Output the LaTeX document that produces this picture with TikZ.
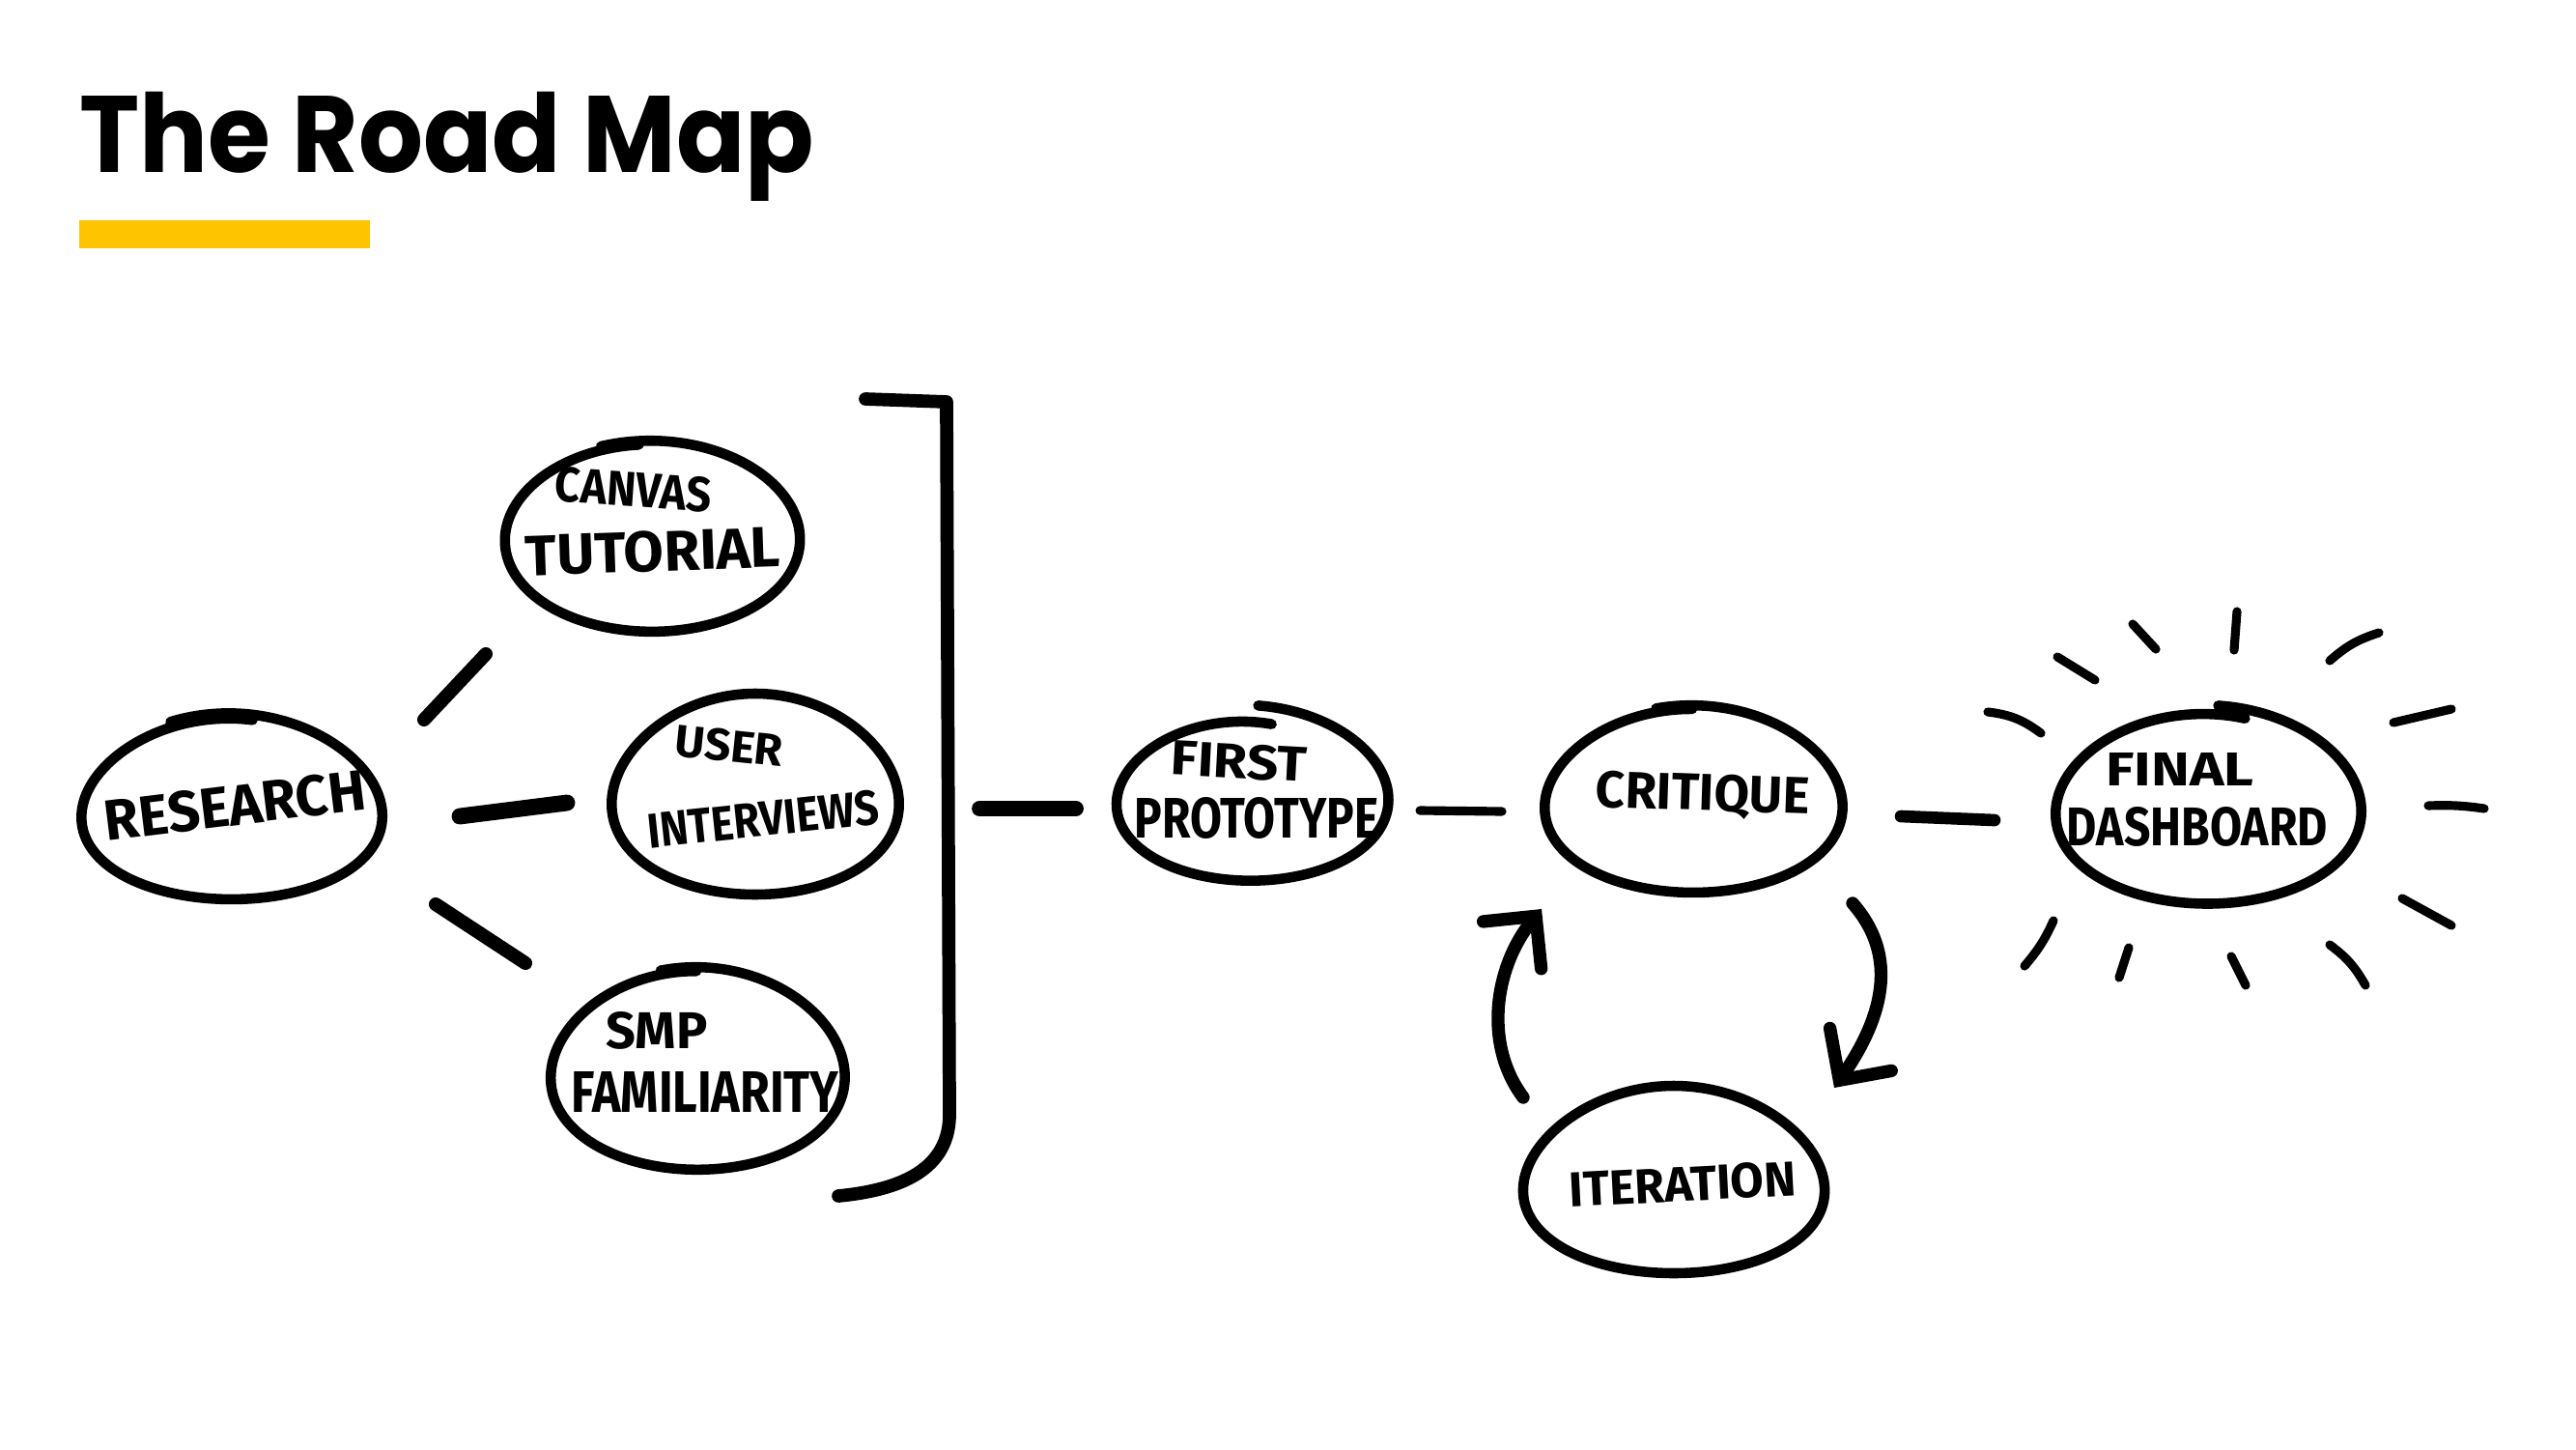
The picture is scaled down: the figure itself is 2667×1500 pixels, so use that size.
\documentclass[tikz,border=0pt]{standalone}
\usepackage{fontspec}
\usetikzlibrary{shapes.geometric,arrows.meta,calc}
\newfontfamily\titlefont{Poppins}
\newfontfamily\handfont{Fira Sans}
\definecolor{barYellow}{HTML}{FFC400}
% #1 node, #2 rx, #3 ry, #4 start angle, #5 overlap, #6 pinch, #7 shrink
\newcommand\handegg[7]{%
  \draw[outline, shift={(#1.center)}] plot[smooth, samples=90, domain=#4:#4+360+#5, variable=\t]
  ({#2*cos(\t)*(1+#6*sin(\t))*(1-#7*(\t-#4))}, {#3*sin(\t)*(1-#7*(\t-#4))});}
\begin{document}
\begin{tikzpicture}[x=0.01cm, y=-0.01cm,
  eggnode/.style={ellipse, draw=none, inner sep=0pt},
  lab/.style={font=\handfont\bfseries, inner sep=0pt},
  outline/.style={line width=3pt, line cap=round, line join=round},
  dashl/.style={line width=4.3pt, line cap=round},
  ray/.style={line width=2.6pt, line cap=round},
  loop/.style={line width=3.8pt, line cap=round, -{Straight Barb[length=11pt, width=22pt, line cap=round]}}]
\fill[white] (0,0) rectangle (2667,1500);
\useasboundingbox (0,0) rectangle (2667,1500);

% title
\node[anchor=base west, inner sep=0pt, font=\titlefont\bfseries\fontsize{32}{38}\selectfont] (title) at (82,179) {\scalebox{0.935}[1]{The Road Map}};
\fill[barYellow] (82,228) rectangle (383,257);

% egg nodes
\node[eggnode, minimum width=3.2cm, minimum height=1.96cm] (research) at (238,836) {};
\node[eggnode, minimum width=3.08cm, minimum height=1.98cm] (canvas) at (674,556) {};
\node[eggnode, minimum width=2.98cm, minimum height=2.1cm] (user) at (782,822) {};
\node[eggnode, minimum width=3.1cm, minimum height=2.14cm] (smp) at (721,1107) {};
\node[eggnode, minimum width=3.08cm, minimum height=1.9cm] (first) at (1290,825) {};
\node[eggnode, minimum width=3.14cm, minimum height=1.96cm] (critique) at (1752,828) {};
\node[eggnode, minimum width=3.1cm, minimum height=1.94cm] (iteration) at (1733,1221) {};
\node[eggnode, minimum width=3.3cm, minimum height=2.1cm] (final) at (2283,835) {};

\handegg{research}{160}{98}{245}{35}{0.1}{0.00015}
\handegg{canvas}{156}{100}{250}{15}{0.03}{0.0001}
\handegg{user}{148}{104}{220}{8}{0.1}{0}
\handegg{smp}{155}{106}{255}{15}{0.08}{0.0001}
\handegg{first}{154}{95}{275}{8}{0.06}{0.0005}
\handegg{critique}{157}{98}{255}{15}{0.08}{0.0001}
\handegg{iteration}{155}{97}{270}{8}{0.12}{0}
\handegg{final}{165}{105}{275}{12}{0.06}{0.00025}

% labels
\node[lab, rotate=7] (research-t) at (243,834) {\resizebox{2.72cm}{0.42cm}{RESEARCH}};
\node[lab, rotate=-4] (canvas-t1) at (656,507) {\resizebox{1.62cm}{0.36cm}{CANVAS}};
\node[lab, rotate=2] (canvas-t2) at (676,571) {\resizebox{2.64cm}{0.42cm}{TUTORIAL}};
\node[lab, rotate=-6] (user-t1) at (755,772) {\resizebox{1.12cm}{0.33cm}{USER}};
\node[lab, rotate=6] (user-t2) at (790,848) {\resizebox{2.40cm}{0.36cm}{INTERVIEWS}};
\node[lab] (smp-t1) at (680,1067) {\resizebox{1.05cm}{0.38cm}{SMP}};
\node[lab] (smp-t2) at (730,1130) {\resizebox{2.77cm}{0.42cm}{FAMILIARITY}};
\node[lab, rotate=-3] (first-t1) at (1283,788) {\resizebox{1.41cm}{0.36cm}{FIRST}};
\node[lab] (first-t2) at (1301,847) {\resizebox{2.52cm}{0.42cm}{PROTOTYPE}};
\node[lab, rotate=-2] (critique-t) at (1763,824) {\resizebox{2.21cm}{0.38cm}{CRITIQUE}};
\node[lab, rotate=3] (iteration-t) at (1742,1226) {\resizebox{2.35cm}{0.36cm}{ITERATION}};
\node[lab] (final-t1) at (2257,796) {\resizebox{1.53cm}{0.34cm}{FINAL}};
\node[lab] (final-t2) at (2275,856) {\resizebox{2.70cm}{0.40cm}{DASHBOARD}};

% bracket
\draw[line width=3.9pt, line cap=round, line join=round]
  (896,413) -- (980,416) -- (983,1150) .. controls (985,1212) and (930,1232) .. (868,1238);
\coordinate (bracket) at (985,837);

% connectors (dashes)
\draw[dashl, line width=4pt] ([shift={(201,-91)}]research.center) -- ([shift={(-171,121)}]canvas.center);
\draw[dashl, line width=4.8pt] ([shift={(238,9)}]research.center) -- ([shift={(-195,9)}]user.center);
\draw[dashl, line width=4pt] ([shift={(213,100)}]research.center) -- ([shift={(-177,-110)}]smp.center);
\draw[dashl, line width=4.5pt] ([shift={(29,0)}]bracket) -- ([shift={(-176,12)}]first.center);
\draw[dashl, line width=2.6pt] ([shift={(180,14)}]first.center) -- ([shift={(-197,12)}]critique.center);
\draw[dashl, line width=3.6pt] ([shift={(216,17)}]critique.center) -- ([shift={(-218,14)}]final.center);

% loop arrows
\draw[loop] ([shift={(166,107)}]critique.center) .. controls (1962,985) and (1955,1045) .. ([shift={(166,-95)}]iteration.center);
\draw[loop] ([shift={(-156,-85)}]iteration.center) .. controls (1535,1080) and (1548,1000) .. ([shift={(-156,113)}]critique.center);

% sun rays
\draw[ray] (2058,737) to[bend left=15] (2113,759);
\draw[ray] (2130,680) -- (2169,704);
\draw[ray] (2208,646) -- (2232,672);
\draw[ray] (2316,633) -- (2313,673);
\draw[ray] (2412,684) to[bend left=12] (2463,655);
\draw[ray] (2478,748) -- (2538,734);
\draw[ray] (2514,834) to[bend left=5] (2572,837);
\draw[ray] (2487,930) -- (2538,958);
\draw[ray] (2412,978) to[bend left=12] (2449,1020);
\draw[ray] (2310,990) -- (2325,1020);
\draw[ray] (2204,981) -- (2194,1012);
\draw[ray] (2126,953) to[bend left=8] (2096,1000);
\end{tikzpicture}
\end{document}
